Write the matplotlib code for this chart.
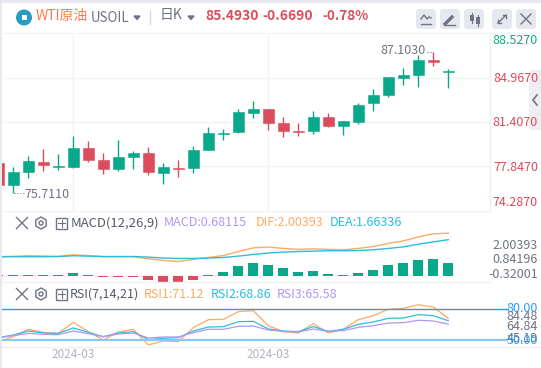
import matplotlib
matplotlib.use('Agg')
import matplotlib.pyplot as plt
from matplotlib.patches import Rectangle, FancyBboxPatch, Circle, RegularPolygon

plt.rcParams['font.family'] = ['Noto Sans CJK SC', 'DejaVu Sans']

# daily candles, first one is cut off by the left edge
opens = [78.12, 76.34, 77.39, 78.20, 77.82, 77.79, 79.33, 78.36, 77.63, 78.60, 78.93, 77.31, 77.71, 77.71, 79.17, 80.46,
         80.62, 82.16, 82.49, 81.35, 80.71, 80.71, 81.84, 81.11, 81.43, 82.97, 83.62, 84.99, 85.24, 86.42, 85.51]
closes = [76.34, 77.39, 78.28, 77.96, 77.87, 79.33, 78.36, 77.63, 78.60, 78.93, 77.39, 77.79, 77.66, 79.17, 80.54, 80.52,
          82.24, 82.49, 81.35, 80.71, 80.65, 81.84, 81.11, 81.52, 82.81, 83.62, 85.07, 85.24, 86.45, 86.32, 85.56]
highs = [78.12, 77.79, 78.68, 79.25, 78.85, 80.30, 79.90, 78.93, 79.98, 79.09, 79.41, 78.12, 78.36, 79.49, 81.03, 80.87,
         82.49, 83.13, 82.49, 81.84, 81.35, 82.32, 82.16, 81.52, 82.97, 84.10, 85.07, 85.80, 86.85, 87.103, 85.69]
lows = [76.34, 75.711, 76.93, 77.47, 77.55, 77.71, 78.20, 77.23, 77.47, 77.63, 77.15, 76.42, 76.98, 77.31, 79.17, 79.98,
        80.54, 81.76, 80.79, 80.22, 80.30, 80.46, 81.03, 80.38, 81.27, 82.32, 83.46, 84.43, 84.27, 85.97, 84.18]

dif = [0.78, 0.80, 0.83, 0.82, 0.79, 0.88, 0.84, 0.78, 0.78, 0.78, 0.67, 0.59, 0.53, 0.64, 0.74, 0.84,
       1.05, 1.24, 1.28, 1.21, 1.16, 1.19, 1.16, 1.14, 1.21, 1.31, 1.47, 1.60, 1.81, 1.97, 2.00393]
dea = [0.78, 0.78, 0.78, 0.78, 0.79, 0.83, 0.81, 0.79, 0.79, 0.79, 0.76, 0.71, 0.69, 0.69, 0.71, 0.74,
       0.81, 0.90, 0.97, 1.02, 1.05, 1.07, 1.09, 1.09, 1.10, 1.14, 1.21, 1.29, 1.43, 1.55, 1.66336]
macd = [0.06, 0.06, 0.06, 0.06, 0.06, 0.16, 0.06, -0.07, -0.06, -0.06, -0.21, -0.31, -0.32001, -0.21, 0.06, 0.21,
        0.52, 0.68, 0.58, 0.42, 0.21, 0.26, 0.10, 0.06, 0.16, 0.31, 0.58, 0.68, 0.84, 0.89, 0.68115]

rsi1 = [48.4, 53.3, 60.5, 57.5, 56.5, 67.3, 58.2, 50.0, 57.9, 60.5, 45.19, 49.1, 48.4, 62.1, 69.9, 70.2,
        77.7, 78.7, 64.0, 58.2, 56.9, 66.0, 56.9, 60.5, 69.9, 73.8, 80.0, 81.0, 84.48, 82.3, 71.12]
rsi2 = [52.3, 54.9, 58.8, 56.9, 56.5, 61.8, 57.5, 53.3, 56.9, 58.2, 50.4, 51.7, 52.3, 58.8, 62.7, 63.1,
        67.9, 68.3, 60.8, 58.8, 58.2, 63.1, 58.5, 60.5, 65.3, 67.6, 71.2, 71.5, 74.8, 73.8, 68.86]
rsi3 = [52.3, 54.3, 56.5, 55.6, 55.2, 58.8, 56.2, 53.3, 55.9, 56.9, 52.0, 53.0, 53.0, 57.2, 60.5, 60.5,
        63.4, 63.7, 59.8, 58.5, 57.9, 60.8, 58.5, 59.2, 62.4, 64.0, 66.6, 67.0, 69.3, 68.6, 65.58]

price_ticks = [88.5270, 84.9670, 81.4070, 77.8470, 74.2870]
macd_ticks = ['2.00393', '0.84196', '-0.32001']
rsi_ticks = ['84.48', '64.84', '45.19']
date_labels = ['2024-03', '2024-03']

GREEN = '#0aa88a'
RED = '#db4c5c'
ORANGE = '#fbab62'
CYAN = '#2fbcdc'
PURPLE = '#b197ee'
GRID = '#f3f4f7'
GRAY = '#6f7384'
BLUE = '#2b9cf0'
W, H = 541, 368
XS = list(range(-1, 30))
XLIM = ((2 - 13.3) / 15, (490 - 13.3) / 15)


def panel(fig, top, bottom, ylim):
    # axes placed by pixel rows, no frame
    ax = fig.add_axes([2 / W, 1 - bottom / H, 488 / W, (bottom - top) / H])
    ax.set_xlim(*XLIM)
    ax.set_ylim(*ylim)
    ax.set_axis_off()
    ax.patch.set_alpha(0)
    return ax


def draw_candles(fig):
    ax = panel(fig, 33, 211, (74.23, 88.63))
    ax.hlines(price_ticks[1:4], *XLIM, color=GRID, lw=1, zorder=0)
    ax.vlines([4, 17], 74.23, 88.63, color=GRID, lw=1, zorder=0)
    colors = [GREEN if c >= o else RED for o, c in zip(opens, closes)]
    ax.vlines(XS, lows, highs, color=colors, lw=1, zorder=2)
    for x, o, c, col in zip(XS, opens, closes, colors):
        ax.add_patch(Rectangle((x - 0.36, min(o, c)), 0.72, abs(c - o), fc=col, ec=col, lw=0.4, zorder=3))
    # high and low markers
    ax.hlines(max(highs), 27.55, 27.95, color=GRAY, lw=0.8, ls=':')
    ax.hlines(min(lows), 0.05, 0.7, color=GRAY, lw=0.8, ls=':')
    ax.annotate('87.1030', (27.5, max(highs)), xytext=(0, 1), textcoords='offset points',
                ha='right', va='center', fontsize=9, color=GRAY)
    ax.annotate('75.7110', (0.72, min(lows)), xytext=(0, -1.5), textcoords='offset points',
                ha='left', va='center', fontsize=9, color=GRAY)


def draw_macd(fig):
    ax = panel(fig, 211, 282, (-0.534, 3.155))
    ax.plot(XS, dif, color=ORANGE, lw=1)
    ax.plot(XS, dea, color=CYAN, lw=1)
    bars = panel(fig, 211, 282, (-0.33, 3.40))
    bars.bar(XS, macd, width=0.66, color=[GREEN if m > 0 else RED for m in macd], lw=0)


def draw_rsi(fig):
    ax = panel(fig, 282, 347, (43.2, 106.7))
    ax.plot(XS, rsi1, color=ORANGE, lw=0.9)
    ax.plot(XS, rsi2, color=CYAN, lw=0.9)
    ax.plot(XS, rsi3, color=PURPLE, lw=0.9)
    ax.plot([XLIM[0], 32.9], [80, 80], color=BLUE, lw=1, clip_on=False)
    ax.plot([XLIM[0], 32.9], [50, 50], color='#8cc8f2', lw=1.6, clip_on=False)


def button(ax, x):
    ax.add_patch(FancyBboxPatch((x + 2, 11), 16, 16, boxstyle='round,pad=2,rounding_size=3', fc='#e6e8ef', ec='none'))


def x_icon(ax, x, y, r, color=GRAY):
    ax.plot([x - r, x + r], [y - r, y + r], color=color, lw=1)
    ax.plot([x - r, x + r], [y + r, y - r], color=color, lw=1)


def indicator_row(ax, y):
    x_icon(ax, 22, y, 5.5)
    ax.add_patch(RegularPolygon((41, y), 6, radius=6, fc='none', ec=GRAY, lw=1))
    ax.add_patch(Circle((41, y), 2, fc='none', ec=GRAY, lw=1))
    ax.add_patch(Rectangle((56, y - 5.5), 11, 11, fc='none', ec=GRAY, lw=1))
    ax.plot([58, 65], [y, y], color=GRAY, lw=0.8)
    ax.plot([61.5, 61.5], [y - 3.5, y + 3.5], color=GRAY, lw=0.8)


def draw_chrome(fig):
    # page frame, header, icons and all the axis text, in pixel coordinates
    ax = fig.add_axes([0, 0, 1, 1])
    ax.set_xlim(0, W)
    ax.set_ylim(H, 0)
    ax.set_axis_off()
    ax.patch.set_alpha(0)
    ax.add_patch(Rectangle((0, 0), 2, H, fc='#e6e9f0', ec='none'))
    ax.add_patch(Rectangle((0, 0), W, 2.5, fc='#e6e9f0', ec='none'))
    ax.plot([2, W], [33, 33], color=GRID, lw=1)
    ax.plot([2, 490], [211, 211], color=GRID, lw=1)
    ax.plot([2, 490], [282, 282], color='#eef0f4', lw=1)
    ax.plot([2, W], [347, 347], color='#eef0f4', lw=1)
    ax.plot([490, 490], [33, 211], color='#eef0f4', lw=1)

    ax.add_patch(Circle((24, 17.5), 8, fc='#2a9cc4', ec='none'))
    ax.add_patch(Rectangle((21.5, 15), 5, 5, fc='white', ec='none'))
    ax.text(36, 16, 'WTI原油', fontsize=10, color='#ff7a50', va='center')
    ax.text(91, 18, 'USOIL', fontsize=9.6, color=GRAY, va='center')
    ax.fill([134, 140, 137], [16, 16, 19.5], color=GRAY)
    ax.plot([150, 150], [11, 24], color='#d5d8e0', lw=1)
    ax.text(160, 15.5, '日K', fontsize=10, color=GRAY, va='center')
    ax.fill([188, 194, 191], [16, 16, 19.5], color=GRAY)
    ax.text(205, 16, '85.4930', fontsize=10, color=RED, va='center', fontweight='bold')
    ax.text(262, 16, '-0.6690', fontsize=10, color=RED, va='center', fontweight='bold')
    ax.text(322, 16, '-0.78%', fontsize=9.7, color=RED, va='center', fontweight='bold')

    for x in [416, 440, 464, 492, 516]:
        button(ax, x)
    ax.plot([421, 431], [24, 24], color=GRAY, lw=1)
    ax.plot([421, 424, 427, 429, 431], [19, 15, 19, 17, 18], color=GRAY, lw=1)
    ax.plot([445, 452], [24, 17], color=GRAY, lw=2.4)
    ax.plot([445, 455], [25, 25], color=GRAY, lw=1)
    ax.add_patch(Rectangle((470, 15), 3.5, 6, fc=GRAY, ec='none'))
    ax.add_patch(Rectangle((476, 17), 3.5, 7, fc=GRAY, ec='none'))
    ax.plot([471.7, 471.7], [13, 23], color=GRAY, lw=0.8)
    ax.plot([477.7, 477.7], [15, 26], color=GRAY, lw=0.8)
    ax.plot([498, 506], [23, 15], color=GRAY, lw=1)
    ax.plot([503, 506, 506], [15, 15, 18], color=GRAY, lw=1)
    ax.plot([498, 498, 501], [20, 23, 23], color=GRAY, lw=1)
    x_icon(ax, 526, 19, 5)

    # price axis
    price_y = [41, 79, 122.5, 167.5, 202]
    for p, y in zip(price_ticks, price_y):
        ax.text(538, y, f'{p:.4f}', fontsize=9, ha='right', va='center', color=GREEN if p > 85.493 else RED)

    ax.add_patch(FancyBboxPatch((531, 72), 14, 56, boxstyle='round,pad=2,rounding_size=3', fc='#eeeef2', ec='none', zorder=0))
    ax.plot([537, 533, 537], [95, 100, 105], color=GRAY, lw=1.2)

    # MACD header and ticks
    indicator_row(ax, 223)
    ax.text(71, 223, 'MACD(12,26,9)', fontsize=9.4, color='#555968', va='center')
    ax.text(164, 223, 'MACD:0.68115', fontsize=9, color=PURPLE, va='center')
    ax.text(256, 223, 'DIF:2.00393', fontsize=9, color=ORANGE, va='center')
    ax.text(330, 223, 'DEA:1.66336', fontsize=9, color=CYAN, va='center')
    for lab, y in zip(macd_ticks, [245.7, 259.3, 274.7]):
        ax.text(538, y, lab, fontsize=9, color=GRAY, ha='right', va='center')

    # RSI header and ticks
    indicator_row(ax, 294)
    ax.text(70, 294, 'RSI(7,14,21)', fontsize=9, color='#555968', va='center')
    ax.text(144, 294, 'RSI1:71.12', fontsize=9, color=ORANGE, va='center')
    ax.text(211, 294, 'RSI2:68.86', fontsize=9, color=CYAN, va='center')
    ax.text(277, 294, 'RSI3:65.58', fontsize=9, color=PURPLE, va='center')
    for lab, y in zip(rsi_ticks, [316.7, 326.7, 338]):
        ax.text(538, y, lab, fontsize=9, color=GRAY, ha='right', va='center')
    ax.text(538, 309, '80.00', fontsize=9, color=BLUE, ha='right', va='center')
    ax.text(538, 340.7, '50.00', fontsize=9, color=BLUE, ha='right', va='center')

    for lab, x in zip(date_labels, [73, 268]):
        ax.text(x, 355, lab, fontsize=8.4, color='#b0b3bd', ha='center', va='center')


def main():
    fig = plt.figure(figsize=(W / 100, H / 100), dpi=100, facecolor='white')
    draw_candles(fig)
    draw_macd(fig)
    draw_rsi(fig)
    draw_chrome(fig)
    fig.savefig('out.png', dpi=100)
    plt.close(fig)


if __name__ == "__main__":
    main()
